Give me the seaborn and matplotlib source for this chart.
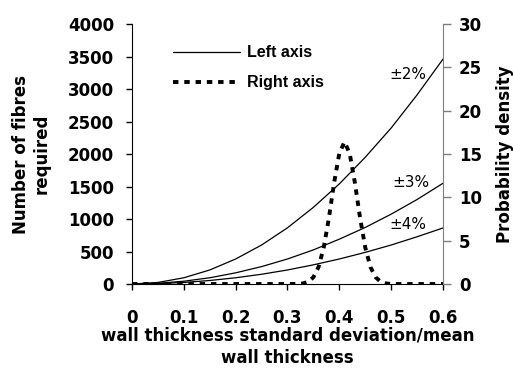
import matplotlib
matplotlib.use("Agg")
import matplotlib.pyplot as plt
import seaborn as sns
import pandas as pd

x_cv = [0.0, 0.05, 0.1, 0.15, 0.2, 0.25, 0.3, 0.35, 0.4, 0.45, 0.5, 0.55, 0.6]
n_2pct = [0, 24, 96, 216, 385, 600, 865, 1180, 1540, 1950, 2400, 2910, 3460]
n_3pct = [0, 11, 43, 96, 172, 268, 385, 525, 690, 870, 1075, 1300, 1550]
n_4pct = [0, 6, 24, 54, 96, 150, 216, 295, 385, 487, 600, 727, 862]
curve_labels = ["\u00b12%", "\u00b13%", "\u00b14%"]

x_pdf = [0.0, 0.1, 0.2, 0.3, 0.32, 0.33, 0.34, 0.35, 0.36, 0.37, 0.38, 0.39, 0.40,
         0.41, 0.42, 0.43, 0.44, 0.45, 0.46, 0.47, 0.48, 0.49, 0.5, 0.55, 0.6]
pdf = [0, 0, 0, 0, 0.01, 0.07, 0.26, 0.78, 1.97, 4.23, 7.65, 11.7, 15.07,
       16.4, 15.07, 11.7, 7.65, 4.23, 1.97, 0.78, 0.26, 0.07, 0, 0, 0]

x_ticks = [0, 0.1, 0.2, 0.3, 0.4, 0.5, 0.6]
x_ticklabels = ["0", "0.1", "0.2", "0.3", "0.4", "0.5", "0.6"]
left_ticks = [0, 500, 1000, 1500, 2000, 2500, 3000, 3500, 4000]
right_ticks = [0, 5, 10, 15, 20, 25, 30]

sns.set_style("ticks")
plt.rcParams['font.family'] = ['DejaVu Sans']
plt.rcParams['text.color'] = 'black'
plt.rcParams['axes.labelcolor'] = 'black'
plt.rcParams['xtick.color'] = 'black'
plt.rcParams['ytick.color'] = 'black'
plt.rcParams['axes.edgecolor'] = 'black'

fig = plt.figure(figsize=(5.13, 3.70), dpi=100)
ax = fig.add_axes([0.2573, 0.2324, 0.6062, 0.7026])
ax2 = ax.twinx()

df = pd.DataFrame({"x": x_cv * 3,
                   "n": n_2pct + n_3pct + n_4pct,
                   "s": sum([[l] * len(x_cv) for l in curve_labels], [])})
sns.lineplot(data=df, x="x", y="n", units="s", estimator=None, color="black",
             lw=0.9, ax=ax, legend=False)
dots = (0, (1.4, 1.5))
sns.lineplot(x=x_pdf, y=pdf, color="black", lw=2.8, ax=ax2,
             linestyle=dots, legend=False)

ax.set_xlim(0, 0.6)
ax.set_ylim(0, 4000)
ax2.set_ylim(0, 30)
ax.set_xticks(x_ticks)
ax.set_xticklabels(x_ticklabels)
ax.set_yticks(left_ticks)
ax2.set_yticks(right_ticks)

for a in (ax, ax2):
    a.spines['top'].set_visible(False)
    a.tick_params(labelsize=12, width=1, direction='out')
    for lab in a.get_xticklabels() + a.get_yticklabels():
        lab.set_fontweight('bold')
ax.tick_params(axis='x', pad=14, length=4)
ax.tick_params(axis='y', pad=9, length=4)
ax2.tick_params(axis='y', pad=6, length=5.5)
ax2.spines['left'].set_visible(False)
ax2.spines['bottom'].set_visible(False)
ax.spines['right'].set_visible(False)
ax2.spines['right'].set_color('#7f7f7f')
ax2.tick_params(axis='y', colors='#7f7f7f', labelcolor='black')

ax.set_xlabel("wall thickness standard deviation/mean\nwall thickness",
              fontsize=12, fontweight='bold', linespacing=1.3)
ax.xaxis.set_label_coords(0.5, -0.165)
ax.set_ylabel("Number of fibres\nrequired", fontsize=12, fontweight='bold',
              linespacing=1.2)
ax.yaxis.set_label_coords(-0.262, 0.5)
ax2.set_ylabel("Probability density", fontsize=12, fontweight='bold')
ax2.yaxis.set_label_coords(1.172, 0.5)

ax.text(0.5325, 3231, curve_labels[0], fontsize=11, ha='center', va='center')
ax.text(0.538, 1569, curve_labels[1], fontsize=11, ha='center', va='center')
ax.text(0.5325, 923, curve_labels[2], fontsize=11, ha='center', va='center')

# legend
ax.plot([0.079, 0.208], [3569, 3569], color='black', lw=0.9)
ax.plot([0.079, 0.208], [3108, 3108], color='black', lw=2.8, linestyle=dots)
leg_font = ['Liberation Sans Narrow', 'Liberation Sans']
ax.text(0.221, 3569, "Left axis", fontsize=11.5, fontweight='bold', va='center',
        family=leg_font)
ax.text(0.221, 3108, "Right axis", fontsize=11.5, fontweight='bold', va='center',
        family=leg_font)

fig.savefig("out.png", dpi=100)
